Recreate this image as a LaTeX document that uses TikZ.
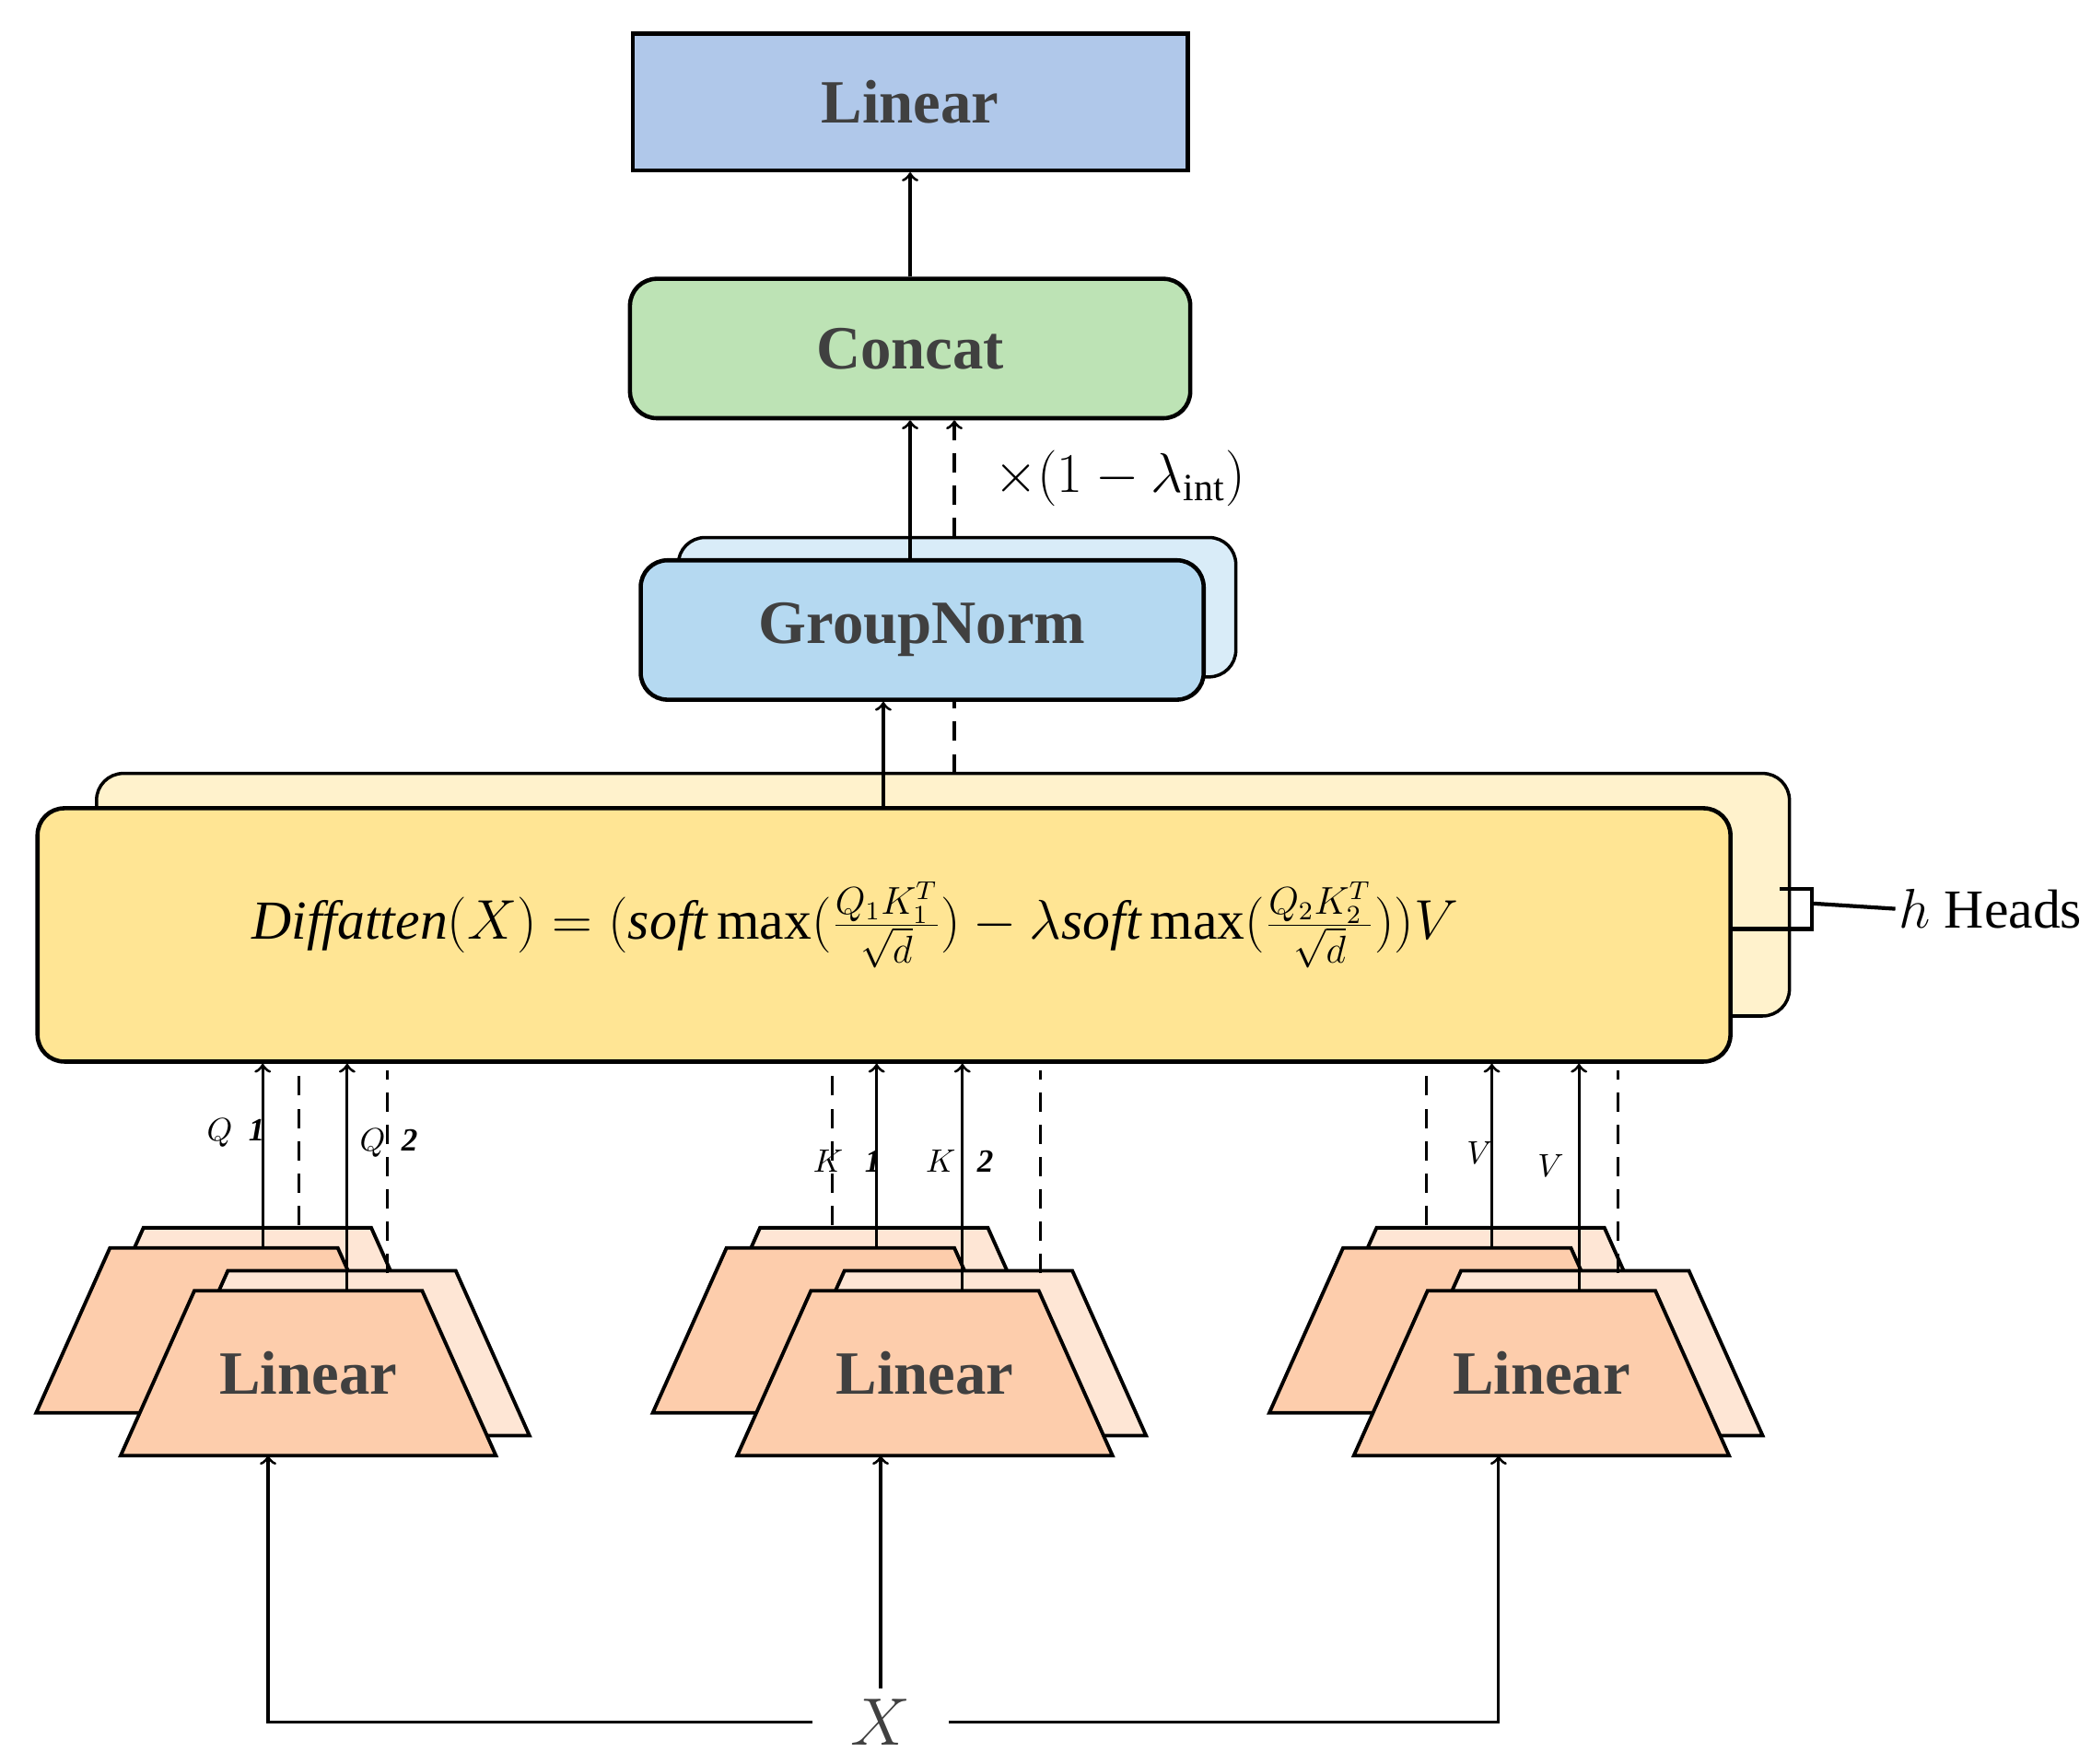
\documentclass[tikz,border=0pt]{standalone}
\usepackage{fontspec}
\setmainfont{Liberation Serif}
\usepackage{tikz}
\usetikzlibrary{arrows,calc,positioning}
\definecolor{tgray}{HTML}{404040}
\definecolor{linblue}{HTML}{B0C8EA}
\definecolor{catgreen}{HTML}{BDE3B5}
\definecolor{gnblue}{HTML}{B5D9F1}
\definecolor{gnback}{HTML}{D9ECF8}
\definecolor{dfyel}{HTML}{FFE594}
\definecolor{dfback}{HTML}{FFF2CC}
\definecolor{trdark}{HTML}{FDCDAC}
\definecolor{trlight}{HTML}{FEE6D5}
\def\px{0.01455cm}
\newcommand\lintrap[3]{\draw[line width=1.1pt,fill=#1] (#2-140,#3+61.5) -- (#2+140,#3+61.5) -- (#2+85,#3-61.5) -- (#2-85,#3-61.5) -- cycle;}
\tikzset{
  box/.style={rectangle,draw,line width=1.3pt,text=tgray,font=\fontsize{19}{22}\selectfont\bfseries},
  rbox/.style={box,rounded corners=20*\px},
  lab/.style={font=\fontsize{10}{12}\selectfont\bfseries\itshape},
  sol/.style={line width=0.9pt,->},
  das/.style={line width=0.9pt,dashed,dash pattern=on 6pt off 4pt},
  >=to
}
\begin{document}
\begin{tikzpicture}[x=\px,y=-\px]
\useasboundingbox (0,0) rectangle (1560,1316);

\draw (679,76) node[box,fill=linblue,minimum width=414*\px,minimum height=102*\px] (linear) {Linear};
\draw (679,260) node[rbox,fill=catgreen,minimum width=418*\px,minimum height=104*\px] (concat) {Concat};
\draw (714,453) node[rbox,fill=gnback,line width=1pt,minimum width=416*\px,minimum height=104*\px] (gnb) {};
\draw (688,470) node[rbox,fill=gnblue,minimum width=420*\px,minimum height=104*\px] (gn) {GroupNorm};

\draw (703.5,667.5) node[rbox,fill=dfback,line width=1pt,minimum width=1263*\px,minimum height=181*\px] (diffb) {};
\draw (659.5,697.5) node[rbox,fill=dfyel,minimum width=1263*\px,minimum height=189*\px] (diff) {};
\node[font=\fontsize{17}{20}\selectfont] (formula) at (638,690)
  {$\mathit{Diffatten}(X)=(\mathit{soft}\,\mathrm{max}(\frac{Q_1K_1^T}{\sqrt{d}})-\lambda \mathit{soft}\,\mathrm{max}(\frac{Q_2K_2^T}{\sqrt{d}}))V$};

% h heads bracket
\coordinate (hb1) at (1328,663);
\coordinate (hb2) at (1352,663);
\coordinate (hb3) at (1352,693);
\coordinate (hm) at (1352,674);
\node[anchor=west,font=\fontsize{17}{20}\selectfont,inner sep=1pt] (heads) at (1414,678) {$h$ Heads};
\draw[line width=1.2pt] (hb1) -- (hb2) -- (hb3) -- (hb3 -| diff.east);
\draw[line width=1.2pt] (hm) -- (heads.west);

% linear groups
\foreach \g/\xa/\xb in {q/167/230,k/627/690,v/1087/1150}{
  \lintrap{trlight}{\xa+25}{977.5}
  \lintrap{trdark}{\xa}{992.5}
  \lintrap{trlight}{\xb+25}{1009.5}
  \lintrap{trdark}{\xb}{1024.5}
  \node[text=tgray,font=\fontsize{19}{22}\selectfont\bfseries] (\g lin) at (\xb,1024.5) {Linear};
}

% Q
\coordinate (q1) at (196,931); \coordinate (q1d) at (223,914);
\coordinate (q2) at (259,963); \coordinate (q2d) at (289,950);
\draw[sol] (q1) -- (q1 |- diff.south);
\draw[das] (q1d) -- (q1d |- diff.south);
\draw[sol] (q2) -- (q2 |- diff.south);
\draw[das] (q2d) -- ($(q2d |- diff.south)+(0,5)$);
\node[lab] at (176,845) {$Q$\,\,\,1};
\node[lab] at (290,853) {$Q$\,\,\,2};
% K
\coordinate (k1d) at (621,914); \coordinate (k1) at (654,931);
\coordinate (k2) at (718,963); \coordinate (k2d) at (776,950);
\draw[das] (k1d) -- (k1d |- diff.south);
\draw[sol] (k1) -- (k1 |- diff.south);
\draw[sol] (k2) -- (k2 |- diff.south);
\draw[das] (k2d) -- ($(k2d |- diff.south)+(0,5)$);
\node[lab] at (632,866) {$K$\,\,\,\,1};
\node[lab] at (716,866) {$K$\,\,\,\,2};
% V
\coordinate (v1d) at (1064,914); \coordinate (v1) at (1113,931);
\coordinate (v2) at (1178,963); \coordinate (v2d) at (1207,950);
\draw[das] (v1d) -- (v1d |- diff.south);
\draw[sol] (v1) -- (v1 |- diff.south);
\draw[sol] (v2) -- (v2 |- diff.south);
\draw[das] (v2d) -- ($(v2d |- diff.south)+(0,5)$);
\node[lab] at (1104,860) {$V$};
\node[lab] at (1157,870) {$V$};

% input X
\node[font=\fontsize{20}{22}\selectfont\itshape,text=tgray] (x) at (657,1285) {$X$};
\coordinate (xq) at (200,1086);
\coordinate (xk) at (657,1086);
\coordinate (xv) at (1118,1086);
\draw[sol] ($(x.west)+(-20,0)$) -| (xq);
\draw[sol] (x.north) -- (xk);
\draw[sol] ($(x.east)+(20,0)$) -| (xv);

% upper arrows
\coordinate (d1) at (659,603);
\coordinate (d2) at (712,577);
\draw[sol] (d1) -- (d1 |- gn.south);
\draw[das] (d2) -- (d2 |- gn.south);
\coordinate (g1) at (679,418);
\coordinate (g2) at (712,401);
\draw[sol] (g1) -- (g1 |- concat.south);
\draw[das,->] (g2) -- (g2 |- concat.south);
\node[font=\fontsize{17}{20}\selectfont,anchor=west] (lam) at (733,357) {$\times(1-\lambda_{\mathrm{int}})$};
\draw[sol] (concat) -- (linear);
\end{tikzpicture}
\end{document}
